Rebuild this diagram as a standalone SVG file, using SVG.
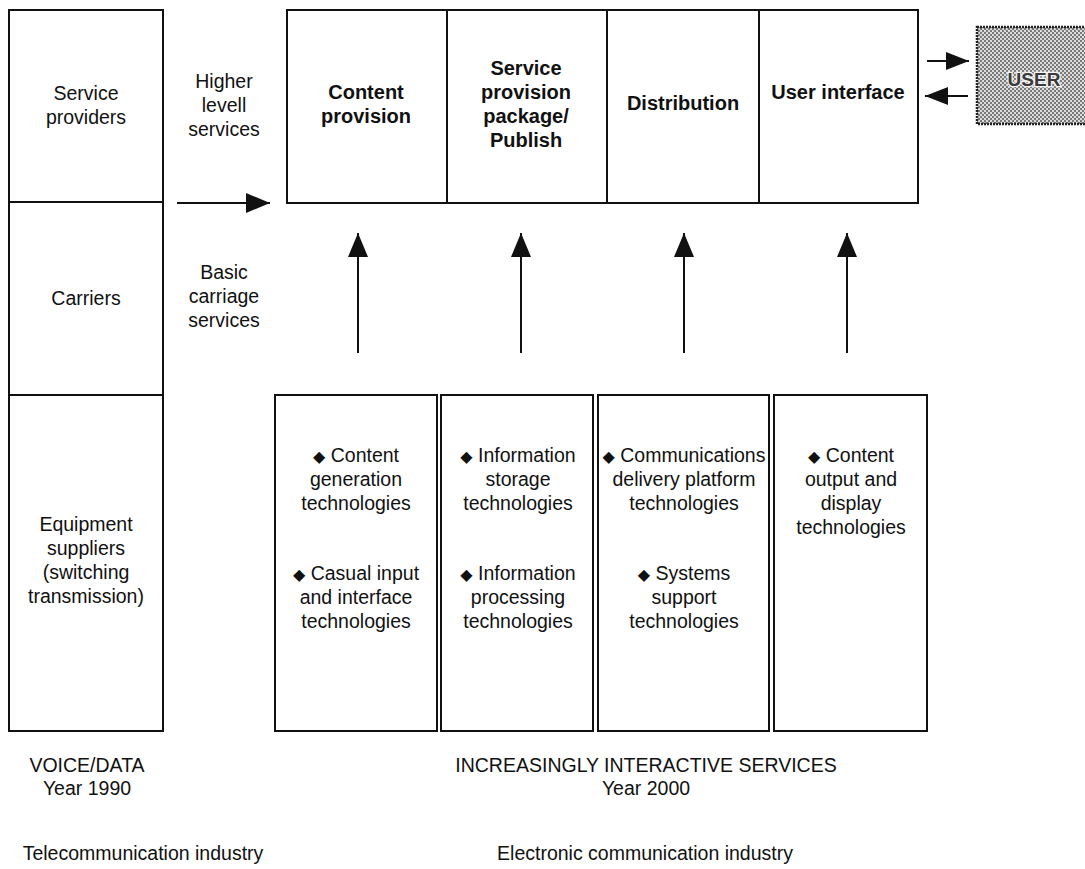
<svg xmlns="http://www.w3.org/2000/svg" width="1085" height="869" viewBox="0 0 1085 869">
<defs>
<style>
.box{fill:#fff;stroke:#111;stroke-width:2}
.ln{stroke:#111;stroke-width:2;fill:none}
.t{font-family:"Liberation Sans",Arial,sans-serif;font-size:19.5px;fill:#111;text-anchor:middle}
.b{font-family:"Liberation Sans",Arial,sans-serif;font-size:20px;font-weight:bold;fill:#111;text-anchor:middle}
.d{font-family:"DejaVu Sans",sans-serif;font-size:16px}
.u{font-family:"Liberation Sans",Arial,sans-serif;font-size:19px;font-weight:bold;fill:#3a3a3a;stroke:#f4f4f4;stroke-width:2.5px;paint-order:stroke;text-anchor:middle}
.head{fill:#111}
</style>
<pattern id="dots" width="4" height="4" patternUnits="userSpaceOnUse">
<rect width="4" height="4" fill="#dcdcdc"/>
<rect x="0" y="0" width="2" height="2" fill="#7a7a7a"/>
<rect x="2" y="2" width="2" height="2" fill="#7a7a7a"/>
</pattern>
<marker id="ah" viewBox="0 0 24 20" refX="24" refY="10" markerWidth="24" markerHeight="20" markerUnits="userSpaceOnUse" orient="auto">
<path d="M0,0 L24,10 L0,20 Z" class="head"/>
</marker>
<marker id="ahs" viewBox="0 0 23 18" refX="23" refY="9" markerWidth="23" markerHeight="18" markerUnits="userSpaceOnUse" orient="auto">
<path d="M0,0 L23,9 L0,18 Z" class="head"/>
</marker>
</defs>

<g id="left-column">
<rect class="box" x="9" y="10" width="154" height="721"/>
<line class="ln" x1="9" y1="202" x2="163" y2="202"/>
<line class="ln" x1="9" y1="395" x2="163" y2="395"/>
</g>
<g id="service-providers">
<text class="t" x="86" y="100">Service</text>
<text class="t" x="86" y="124">providers</text>
</g>
<g id="carriers">
<text class="t" x="86" y="305">Carriers</text>
</g>
<g id="equipment-suppliers">
<text class="t" x="86" y="531">Equipment</text>
<text class="t" x="86" y="555">suppliers</text>
<text class="t" x="86" y="579">(switching</text>
<text class="t" x="86" y="603">transmission)</text>
</g>

<g id="higher-level-label">
<text class="t" x="224" y="88">Higher</text>
<text class="t" x="224" y="112">levell</text>
<text class="t" x="224" y="136">services</text>
</g>
<g id="basic-carriage-label">
<text class="t" x="224" y="279">Basic</text>
<text class="t" x="224" y="303">carriage</text>
<text class="t" x="224" y="327">services</text>
</g>

<g id="top-row">
<rect class="box" x="287" y="10" width="631" height="193"/>
<line class="ln" x1="447" y1="10" x2="447" y2="203"/>
<line class="ln" x1="607" y1="10" x2="607" y2="203"/>
<line class="ln" x1="759" y1="10" x2="759" y2="203"/>
</g>
<g id="content-provision">
<text class="b" x="366" y="99">Content</text>
<text class="b" x="366" y="123">provision</text>
</g>
<g id="service-provision">
<text class="b" x="526" y="75">Service</text>
<text class="b" x="526" y="99">provision</text>
<text class="b" x="526" y="123">package/</text>
<text class="b" x="526" y="147">Publish</text>
</g>
<g id="distribution">
<text class="b" x="683" y="110">Distribution</text>
</g>
<g id="user-interface">
<text class="b" x="838" y="99">User interface</text>
</g>

<g id="user">
<rect x="977" y="27" width="112" height="97" fill="url(#dots)" stroke="#222" stroke-width="2.5" stroke-dasharray="2 1"/>
<text class="u" x="1034" y="86">USER</text>
</g>

<g id="tech-1">
<rect class="box" x="275" y="395" width="162" height="336"/>
<text class="t" x="356" y="462"><tspan class="d">◆</tspan> Content</text>
<text class="t" x="356" y="486">generation</text>
<text class="t" x="356" y="510">technologies</text>
<text class="t" x="356" y="580"><tspan class="d">◆</tspan> Casual input</text>
<text class="t" x="356" y="604">and interface</text>
<text class="t" x="356" y="628">technologies</text>
</g>
<g id="tech-2">
<rect class="box" x="441" y="395" width="152" height="336"/>
<text class="t" x="518" y="462"><tspan class="d">◆</tspan> Information</text>
<text class="t" x="518" y="486">storage</text>
<text class="t" x="518" y="510">technologies</text>
<text class="t" x="518" y="580"><tspan class="d">◆</tspan> Information</text>
<text class="t" x="518" y="604">processing</text>
<text class="t" x="518" y="628">technologies</text>
</g>
<g id="tech-3">
<rect class="box" x="598" y="395" width="171" height="336"/>
<text class="t" x="684" y="462"><tspan class="d">◆</tspan> Communications</text>
<text class="t" x="684" y="486">delivery platform</text>
<text class="t" x="684" y="510">technologies</text>
<text class="t" x="684" y="580"><tspan class="d">◆</tspan> Systems</text>
<text class="t" x="684" y="604">support</text>
<text class="t" x="684" y="628">technologies</text>
</g>
<g id="tech-4">
<rect class="box" x="774" y="395" width="153" height="336"/>
<text class="t" x="851" y="462"><tspan class="d">◆</tspan> Content</text>
<text class="t" x="851" y="486">output and</text>
<text class="t" x="851" y="510">display</text>
<text class="t" x="851" y="534">technologies</text>
</g>

<g id="connectors">
<line class="ln" x1="177" y1="203" x2="270" y2="203" marker-end="url(#ah)"/>
<line class="ln" x1="358" y1="353" x2="358" y2="233" marker-end="url(#ah)"/>
<line class="ln" x1="521" y1="353" x2="521" y2="233" marker-end="url(#ah)"/>
<line class="ln" x1="684" y1="353" x2="684" y2="233" marker-end="url(#ah)"/>
<line class="ln" x1="847" y1="353" x2="847" y2="233" marker-end="url(#ah)"/>
<line class="ln" x1="927" y1="61" x2="969" y2="61" marker-end="url(#ahs)"/>
<line class="ln" x1="968" y1="96" x2="925" y2="96" marker-end="url(#ahs)"/>
</g>

<g id="captions">
<text class="t" x="87" y="772">VOICE/DATA</text>
<text class="t" x="87" y="795">Year 1990</text>
<text class="t" x="646" y="772">INCREASINGLY INTERACTIVE SERVICES</text>
<text class="t" x="646" y="795">Year 2000</text>
<text class="t" x="143" y="860">Telecommunication industry</text>
<text class="t" x="645" y="860">Electronic communication industry</text>
</g>
</svg>
